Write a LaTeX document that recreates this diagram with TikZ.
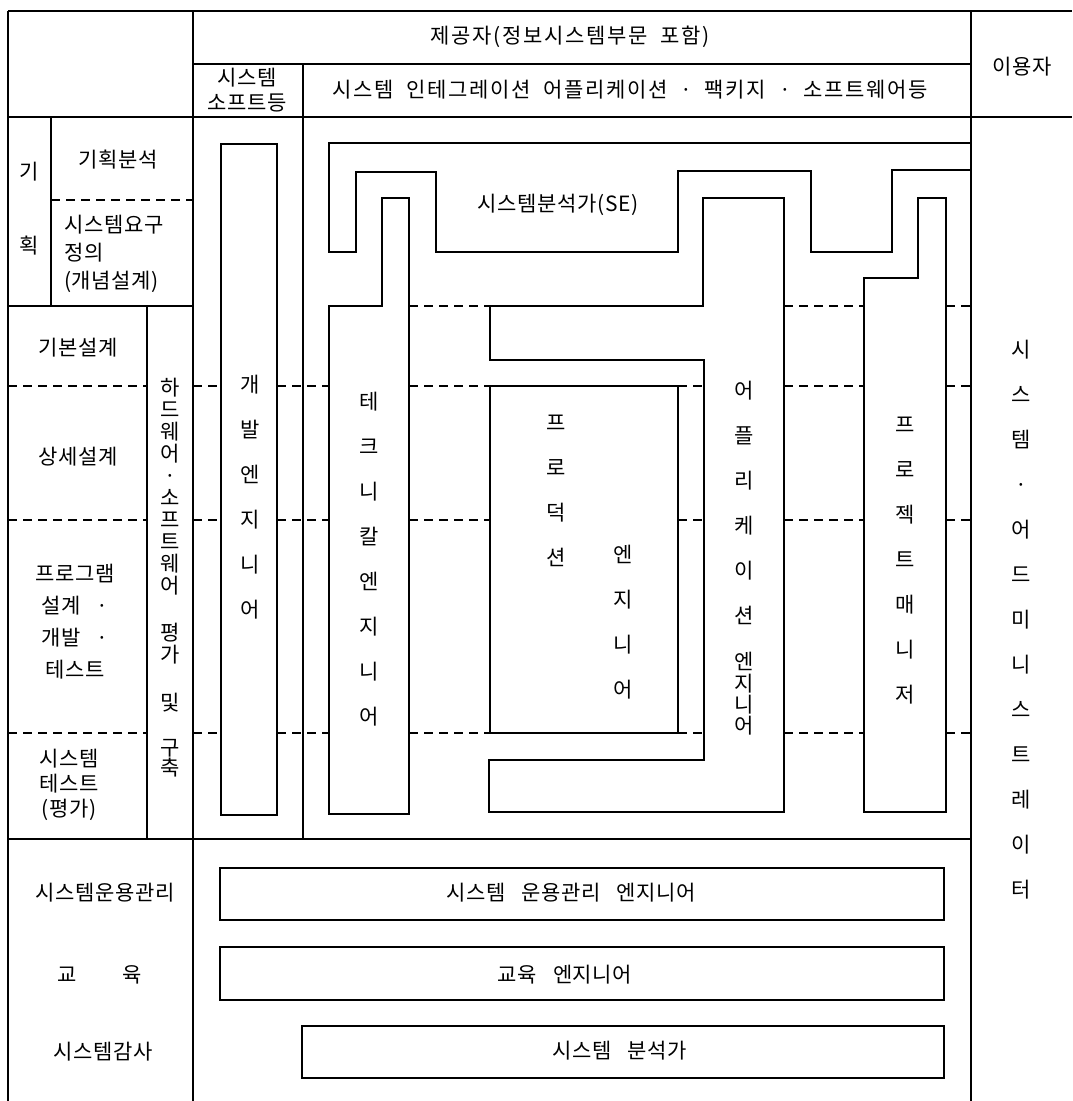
\documentclass[tikz,border=0pt]{standalone}
\usepackage{fontspec}
\setmainfont{Noto Sans CJK KR}[WordSpace=3, LetterSpace=3]
\newfontfamily\hdfont{Noto Sans CJK KR}[WordSpace=2, LetterSpace=8]
\begin{document}
\begin{tikzpicture}[x=1pt,y=-1pt,
  frame/.style={line width=1.3pt},
  dashline/.style={line width=1.3pt, dash pattern=on 9pt off 6pt},
  lbl/.style={font=\fontsize{21}{26}\selectfont, inner sep=0pt, align=center},
  hd/.style={font=\hdfont\fontsize{21}{26}\selectfont, inner sep=0pt, align=center},
  vt/.style={font=\fontsize{21}{45}\selectfont, inner sep=0pt, align=center},
]
\useasboundingbox (0,0) rectangle (1072,1101);
\fill[white] (0,0) rectangle (1072,1101);

% grid
\draw[frame] (8,11) -- (1072,11);
\draw[frame] (8,11) -- (8,1101);
\draw[frame] (193,11) -- (193,1101);
\draw[frame] (971,11) -- (971,1101);
\draw[frame] (193,64) -- (971,64);
\draw[frame] (303,64) -- (303,839);
\draw[frame] (8,117) -- (1072,117);
\draw[frame] (51,117) -- (51,306);
\draw[frame] (8,306) -- (193,306);
\draw[frame] (147,306) -- (147,839);
\draw[frame] (8,839) -- (971,839);

% dashed phase lines
\draw[dashline] (51,200) -- (193,200);
\foreach \yy in {386,520,733}{
  \draw[dashline] (8,\yy) -- (147,\yy);
  \draw[dashline] (193,\yy) -- (221,\yy);
  \draw[dashline] (277,\yy) -- (329,\yy);
  \draw[dashline] (409,\yy) -- (490,\yy);
  \draw[dashline] (678,\yy) -- (704,\yy);
  \draw[dashline] (784,\yy) -- (864,\yy);
  \draw[dashline] (946,\yy) -- (971,\yy);
}
\draw[dashline] (409,306) -- (490,306);
\draw[dashline] (784,306) -- (864,306);
\draw[dashline] (946,306) -- (971,306);

% shapes
\draw[frame] (971,170) -- (892,170) -- (892,252) -- (811,252) -- (811,171) -- (678,171) -- (678,252) -- (436,252) -- (436,172) -- (356,172) -- (356,252) -- (329,252) -- (329,143) -- (971,143);
\draw[frame] (221,144) rectangle (277,815);
\draw[frame] (382,198) -- (409,198) -- (409,814) -- (329,814) -- (329,306) -- (382,306) -- cycle;
\draw[frame] (490,386) rectangle (678,733);
\draw[frame] (703,198) -- (784,198) -- (784,812) -- (489,812) -- (489,760) -- (704,760) -- (704,360) -- (490,360) -- (490,306) -- (703,306) -- cycle;
\draw[frame] (918,198) -- (946,198) -- (946,812) -- (864,812) -- (864,278) -- (918,278) -- cycle;
\draw[frame] (220,868) rectangle (944,920);
\draw[frame] (220,947) rectangle (944,1000);
\draw[frame] (302,1026) rectangle (944,1078);

% header text
\node[hd] (provider) at (570,37) {제공자(정보시스템부문 포함)};
\node[lbl, font=\fontsize{21}{25}\selectfont] (syssoft) at (247,90) {시스템\\소프트등};
\node[hd] (sihead) at (630,90) {시스템 인테그레이션 어플리케이션 · 팩키지 · 소프트웨어등};
\node[lbl] (user) at (1022,67) {이용자};

% left column
\node[lbl] (gi) at (29,172) {기};
\node[lbl] (hoek) at (29,246) {획};
\node[lbl] (plan) at (118,160) {기획분석};
\node[lbl, anchor=west, align=left, font=\fontsize{21}{28}\selectfont] (req) at (64,254) {시스템요구\\정의\\(개념설계)};
\node[lbl] (basic) at (78,348) {기본설계};
\node[lbl] (detail) at (78,457) {상세설계};
\node[lbl, font=\fontsize{21}{32}\selectfont] (prog) at (75,622) {프로그램\\설계 ·\\개발 ·\\테스트};
\node[lbl, font=\fontsize{21}{25}\selectfont] (systest) at (69,785) {시스템\\테스트\\(평가)};
\node[lbl] (ops) at (105,893) {시스템운용관리};
\node[lbl] (edu) at (100,975) {교\hspace{46pt}육};
\node[lbl] (audit) at (103,1052) {시스템감사};

% hardware column
\node[vt, font=\fontsize{21}{22}\selectfont] (hw1) at (170,487) {하\\드\\웨\\어\\·\\소\\프\\트\\웨\\어};
\node[vt, font=\fontsize{21}{22}\selectfont] (hw2) at (170,644) {평\\가};
\node[lbl] (hw3) at (170,703) {및};
\node[vt, font=\fontsize{21}{20}\selectfont] (hw4) at (170,758) {구\\축};

% vertical labels
\node[vt] (dev) at (250,497) {개\\발\\엔\\지\\니\\어};
\node[vt] (tech) at (369,559) {테\\크\\니\\칼\\엔\\지\\니\\어};
\node[vt] (prod1) at (556,491) {프\\로\\덕\\션};
\node[vt] (prod2) at (623,622) {엔\\지\\니\\어};
\node[vt] (app1) at (744,503) {어\\플\\리\\케\\이\\션};
\node[vt, font=\fontsize{21}{21.3}\selectfont] (app2) at (744,694) {엔\\지\\니\\어};
\node[vt] (pm) at (905,561) {프\\로\\젝\\트\\매\\니\\저};
\node[vt] (admin) at (1021,620) {시\\스\\템\\·\\어\\드\\미\\니\\스\\트\\레\\이\\터};

% SE and lower boxes
\node[lbl] (se) at (558,205) {시스템분석가(SE)};
\node[lbl] (opseng) at (571,893) {시스템 운용관리 엔지니어};
\node[lbl] (edueng) at (565,975) {교육 엔지니어};
\node[lbl] (sa) at (620,1051) {시스템 분석가};
\end{tikzpicture}
\end{document}
